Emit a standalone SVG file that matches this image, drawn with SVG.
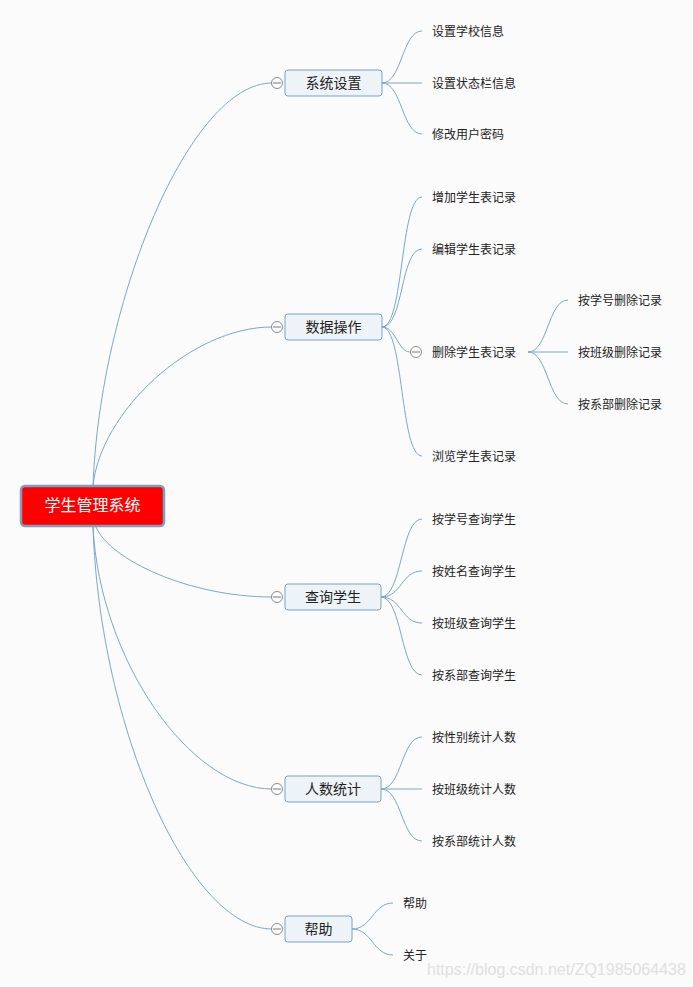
<svg xmlns="http://www.w3.org/2000/svg" width="693" height="987" viewBox="0 0 693 987">
<style>
.bg{fill:#fbfbfb}
.c{fill:none;stroke:#7ba8c9;stroke-width:1}
.box{fill:#eef3f7;stroke:#76a3c7;stroke-width:1}
.root{fill:#ff0000;stroke:#7a9fbf;stroke-width:2.5}
.t{font-family:"Microsoft YaHei","Noto Sans CJK SC",sans-serif;fill:#222;dominant-baseline:central}
.t1{font-size:14px;text-anchor:middle}
.t2{font-size:12px}
.tr{font-size:16px;fill:#fff;text-anchor:middle}
.tog{fill:#fff;stroke:#8a8a8a;stroke-width:1}
.togm{stroke:#777;stroke-width:1}
.wm{font-family:"Liberation Sans",Arial,sans-serif;font-size:16px;fill:#e0e0e0}
</style>
<rect class="bg" x="0" y="0" width="693" height="987"/>
<g id="connectors">
<path class="c" d="M93,486 C100,300 190,83 272,83"/>
<path class="c" d="M93,486 C100,413 190,327 272,327"/>
<path class="c" d="M96,527 C110,560 190,597 272,597"/>
<path class="c" d="M93,527 C100,660 190,789 272,789"/>
<path class="c" d="M93,527 C100,730 190,929 272,929"/>
<path class="c" d="M382,83 C402,83 402,31 422,31"/>
<path class="c" d="M382,83 L422,83"/>
<path class="c" d="M382,83 C402,83 402,134 422,134"/>
<path class="c" d="M382,327 C404,327 400,197 422,197"/>
<path class="c" d="M382,327 C404,327 400,249 422,249"/>
<path class="c" d="M382,327 C396,327 398,352 410,352"/>
<path class="c" d="M382,327 C404,327 400,456 422,456"/>
<path class="c" d="M528,352 C548,352 548,300 568,300"/>
<path class="c" d="M528,352 L568,352"/>
<path class="c" d="M528,352 C548,352 548,404 568,404"/>
<path class="c" d="M381,597 C402,597 401,519 422,519"/>
<path class="c" d="M381,597 C402,597 401,571 422,571"/>
<path class="c" d="M381,597 C402,597 401,623 422,623"/>
<path class="c" d="M381,597 C402,597 401,675 422,675"/>
<path class="c" d="M381,789 C402,789 401,737 422,737"/>
<path class="c" d="M381,789 L422,789"/>
<path class="c" d="M381,789 C402,789 401,841 422,841"/>
<path class="c" d="M352,929 C372,929 373,903 393,903"/>
<path class="c" d="M352,929 C372,929 373,955 393,955"/>
</g>
<g id="root">
<rect class="root" x="21" y="486" width="143" height="40" rx="4"/>
<text class="t tr" x="92.5" y="504">学生管理系统</text>
</g>
<g id="n-sys">
<circle class="tog" cx="277" cy="83" r="5.5"/><line class="togm" x1="273" y1="83" x2="281" y2="83"/>
<rect class="box" x="285" y="70" width="97" height="26" rx="3"/>
<text class="t t1" x="333.5" y="82">系统设置</text>
</g>
<g id="n-data">
<circle class="tog" cx="277" cy="327" r="5.5"/><line class="togm" x1="273" y1="327" x2="281" y2="327"/>
<rect class="box" x="285" y="314" width="97" height="26" rx="3"/>
<text class="t t1" x="333.5" y="326">数据操作</text>
</g>
<g id="n-query">
<circle class="tog" cx="277" cy="597" r="5.5"/><line class="togm" x1="273" y1="597" x2="281" y2="597"/>
<rect class="box" x="285" y="584" width="96" height="26" rx="3"/>
<text class="t t1" x="333" y="596">查询学生</text>
</g>
<g id="n-stat">
<circle class="tog" cx="277" cy="789" r="5.5"/><line class="togm" x1="273" y1="789" x2="281" y2="789"/>
<rect class="box" x="285" y="776" width="96" height="26" rx="3"/>
<text class="t t1" x="333" y="788">人数统计</text>
</g>
<g id="n-help">
<circle class="tog" cx="277" cy="929" r="5.5"/><line class="togm" x1="273" y1="929" x2="281" y2="929"/>
<rect class="box" x="285" y="916" width="67" height="26" rx="3"/>
<text class="t t1" x="318.5" y="928">帮助</text>
</g>
<g id="leaf-sys"><text class="t t2" x="432" y="30">设置学校信息</text><text class="t t2" x="432" y="82">设置状态栏信息</text><text class="t t2" x="432" y="133">修改用户密码</text></g>
<g id="leaf-data"><text class="t t2" x="432" y="196">增加学生表记录</text><text class="t t2" x="432" y="248">编辑学生表记录</text><text class="t t2" x="432" y="455">浏览学生表记录</text></g>
<g id="n-del">
<circle class="tog" cx="416" cy="352" r="5.5"/><line class="togm" x1="412" y1="352" x2="420" y2="352"/>
<text class="t t2" x="432" y="351">删除学生表记录</text>
</g>
<g id="leaf-del"><text class="t t2" x="578" y="299">按学号删除记录</text><text class="t t2" x="578" y="351">按班级删除记录</text><text class="t t2" x="578" y="403">按系部删除记录</text></g>
<g id="leaf-query"><text class="t t2" x="432" y="518">按学号查询学生</text><text class="t t2" x="432" y="570">按姓名查询学生</text><text class="t t2" x="432" y="622">按班级查询学生</text><text class="t t2" x="432" y="674">按系部查询学生</text></g>
<g id="leaf-stat"><text class="t t2" x="432" y="736">按性别统计人数</text><text class="t t2" x="432" y="788">按班级统计人数</text><text class="t t2" x="432" y="840">按系部统计人数</text></g>
<g id="leaf-help"><text class="t t2" x="403" y="902">帮助</text><text class="t t2" x="403" y="954">关于</text></g>
<text class="wm" x="427" y="975">https://blog.csdn.net/ZQ1985064438</text>
</svg>
